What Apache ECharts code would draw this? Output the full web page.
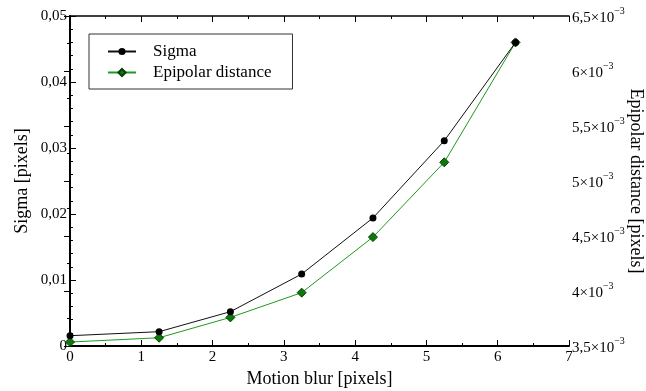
<!DOCTYPE html>
<html>
<head>
<meta charset="utf-8">
<script src="https://cdn.jsdelivr.net/npm/echarts@6/dist/echarts.min.js"></script>
<style>html,body{margin:0;padding:0;background:#fff}#c{width:646px;height:391px}</style>
</head>
<body>
<div id="c"></div>
<script>
var motionBlur = [0, 1.25, 2.25, 3.25, 4.25, 5.25, 6.25];
var sigma = [0.00156, 0.00217, 0.0052, 0.0109, 0.0194, 0.0311, 0.0460];
var epipolarE3 = [3.536, 3.575, 3.76, 3.985, 4.49, 5.17, 6.26]; // in units of 1e-3 pixels
var seriesNames = ['Sigma', 'Epipolar distance'];

var FONT = '"Liberation Serif", "DejaVu Serif", serif';
var chart = echarts.init(document.getElementById('c'));

function pairs(xs, ys) { return xs.map(function (x, i) { return [x, ys[i]]; }); }

var axisLine = { show: true, lineStyle: { color: '#000', width: 1.5 } };
var tickIn = { show: true, inside: true, length: 6, lineStyle: { color: '#000', width: 1 } };

chart.setOption({
  animation: false,
  backgroundColor: '#fff',
  textStyle: { fontFamily: FONT },
  grid: { left: 70, right: 77, top: 16, bottom: 45, containLabel: false, outerBoundsMode: 'none' },
  legend: {
    data: seriesNames,
    orient: 'vertical',
    left: 89, top: 34,
    padding: [9, 21, 8, 18],
    itemGap: 4,
    itemWidth: 28, itemHeight: 9,
    borderColor: '#333', borderWidth: 1,
    textStyle: { fontFamily: FONT, fontSize: 17, color: '#000', padding: [0, 0, 0, 12] }
  },
  xAxis: [{
    type: 'value', min: 0, max: 7, interval: 1, position: 'bottom',
    name: 'Motion blur [pixels]', nameLocation: 'middle', nameGap: 24, nameMoveOverlap: false,
    nameTextStyle: { fontFamily: FONT, fontSize: 18, color: '#000' },
    axisLine: { show: true, lineStyle: { color: '#000', width: 2 } },
    axisTick: tickIn,
    minorTick: { show: true, splitNumber: 2, length: 3, lineStyle: { color: '#000' } },
    axisLabel: { fontFamily: FONT, fontSize: 15, color: '#000', margin: 4 },
    splitLine: { show: false }
  }, {
    type: 'value', min: 0, max: 7, interval: 1, position: 'top',
    axisLine: axisLine, axisTick: tickIn,
    minorTick: { show: true, splitNumber: 2, length: 3, lineStyle: { color: '#000' } },
    axisLabel: { show: false }, splitLine: { show: false }
  }],
  yAxis: [{
    type: 'value', min: 0, max: 0.05, interval: 0.01, position: 'left',
    name: 'Sigma [pixels]', nameLocation: 'middle', nameGap: 39, nameMoveOverlap: false,
    nameTextStyle: { fontFamily: FONT, fontSize: 18, color: '#000' },
    axisLine: { show: true, lineStyle: { color: '#000', width: 2 } },
    axisTick: tickIn,
    minorTick: { show: true, splitNumber: 5, length: 3, lineStyle: { color: '#000' } },
    axisLabel: {
      fontFamily: FONT, fontSize: 15, color: '#000', margin: 3,
      formatter: function (v) { return v === 0 ? '0' : v.toFixed(2).replace('.', ','); }
    },
    splitLine: { show: false }
  }, {
    type: 'value', min: 3.5, max: 6.5, interval: 0.5, position: 'right',
    name: 'Epipolar distance [pixels]', nameLocation: 'middle', nameGap: 58, nameRotate: -90, nameMoveOverlap: false,
    nameTextStyle: { fontFamily: FONT, fontSize: 18, color: '#000' },
    axisLine: axisLine,
    axisTick: tickIn,
    minorTick: { show: true, splitNumber: 2, length: 3, lineStyle: { color: '#000' } },
    axisLabel: {
      fontFamily: FONT, fontSize: 15, color: '#000', margin: 3,
      formatter: function (v) {
        var s = (Math.round(v * 10) % 10 === 0) ? String(Math.round(v)) : v.toFixed(1).replace('.', ',');
        return '{b|' + s + '×10}{s|−3}';
      },
      rich: {
        b: { fontFamily: FONT, fontSize: 15, color: '#000', verticalAlign: 'bottom' },
        s: { fontFamily: FONT, fontSize: 10, color: '#000', verticalAlign: 'top', padding: [0, 0, 10, 0] }
      }
    },
    splitLine: { show: false }
  }],
  series: [{
    name: 'Epipolar distance', type: 'line', yAxisIndex: 1, xAxisIndex: 0,
    data: pairs(motionBlur, epipolarE3),
    symbol: 'diamond', symbolSize: 9,
    lineStyle: { color: '#1f9a1f', width: 1 },
    itemStyle: { color: '#0b7a0b', borderColor: '#053d05', borderWidth: 1 },
    z: 2
  }, {
    name: 'Sigma', type: 'line', yAxisIndex: 0, xAxisIndex: 0,
    data: pairs(motionBlur, sigma),
    symbol: 'circle', symbolSize: 7,
    lineStyle: { color: '#111', width: 1 },
    itemStyle: { color: '#000', borderColor: '#000', borderWidth: 0 },
    z: 3
  }]
});
</script>
</body>
</html>
